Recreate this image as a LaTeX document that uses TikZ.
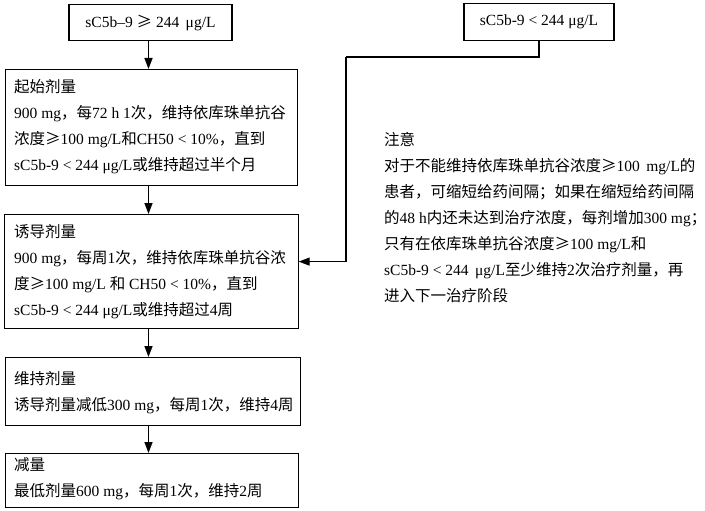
\documentclass[tikz,border=0pt]{standalone}
\usepackage{fontspec}
\setmainfont{Liberation Serif}
\newfontfamily\zhfont{Noto Sans CJK SC}
\newcommand\zh[1]{{\zhfont #1}}
\usetikzlibrary{arrows.meta}
\begin{document}
\begin{tikzpicture}[x=1pt,y=-1pt,
  box/.style={draw, line width=1.2pt, rectangle, inner sep=0pt, anchor=north west},
  tbox/.style={draw, line width=1.2pt, rectangle, inner sep=0pt, font=\fontsize{15.5}{26}\selectfont},
  txt/.style={anchor=north west, align=left, inner sep=0pt, font=\fontsize{15.5}{26}\selectfont},
  arr/.style={-{Triangle[length=11pt,width=8pt]}, line width=1.4pt}]
\useasboundingbox[fill=white] (0,0) rectangle (705,511);

% top boxes
\node[tbox, minimum width=163pt, minimum height=36pt] (a) at (150.5,22.7) {sC5b–9 \zh{≥} 244\, μg/L};
\node[tbox, minimum width=150pt, minimum height=37pt] (r) at (539,22) {sC5b-9 < 244 μg/L};

% box B
\node[box, minimum width=292pt, minimum height=116pt] (b) at (5,69) {};
\node[txt] (bt) at (14,79) {\zh{起始剂量}\\
900 mg\zh{，每}72 h 1\zh{次，维持依库珠单抗谷}\\
\zh{浓度≥}100 mg/L\zh{和}CH50 < 10\%\zh{，直到}\\
sC5b-9 < 244 μg/L\zh{或维持超过半个月}};

% box C
\node[box, minimum width=294pt, minimum height=114pt] (c) at (3.5,214) {};
\node[txt] (ct) at (14,224.5) {\zh{诱导剂量}\\
900 mg\zh{，每周}1\zh{次，维持依库珠单抗谷浓}\\
\zh{度≥}100 mg/L \zh{和} CH50 < 10\%\zh{，直到}\\
sC5b-9 < 244 μg/L\zh{或维持超过}4\zh{周}};

% box D
\node[box, minimum width=295pt, minimum height=68pt] (d) at (4.5,357) {};
\node[txt] (dt) at (14,371.5) {\zh{维持剂量}\\
\zh{诱导剂量减低}300 mg\zh{，每周}1\zh{次，维持}4\zh{周}};

% box E
\node[box, minimum width=293pt, minimum height=54pt] (e) at (4.5,453) {};
\node[txt] (et) at (14,457.5) {\zh{减量}\\
\zh{最低剂量}600 mg\zh{，每周}1\zh{次，维持}2\zh{周}};

% note
\node[txt] (note) at (384,132.5) {\zh{注意}\\
\zh{对于不能维持依库珠单抗谷浓度≥}100\, mg/L\zh{的}\\
\zh{患者，可缩短给药间隔；如果在缩短给药间隔}\\
\zh{的}48 h\zh{内还未达到治疗浓度，每剂增加}300 mg\makebox[6pt][l]{\zh{；}}\\
\zh{只有在依库珠单抗谷浓度≥}100 mg/L\zh{和}\\
sC5b-9 < 244\, μg/L\zh{至少维持}2\zh{次治疗剂量，再}\\
\zh{进入下一治疗阶段}};

% connectors
\coordinate (ax) at ([xshift=-2pt]a.south);
\draw[arr] (ax) -- (ax |- b.north);
\draw[arr] (ax |- b.south) -- (ax |- c.north);
\draw[arr] (ax |- c.south) -- (ax |- d.north);
\draw[arr] (ax |- d.south) -- (ax |- e.north);
\coordinate (k1) at (346,57);
\draw[line width=1.4pt] (r.south) |- (k1);
\draw[arr] (k1) |- ([yshift=10pt]c.east);
\end{tikzpicture}
\end{document}
